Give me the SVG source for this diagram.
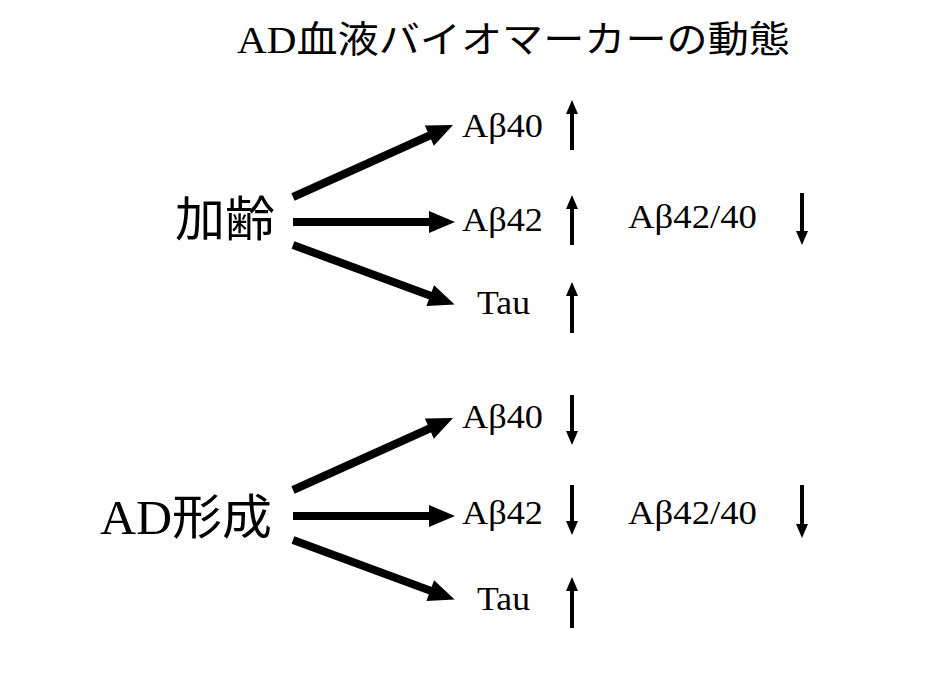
<svg xmlns="http://www.w3.org/2000/svg" width="938" height="689" viewBox="0 0 938 689">
<defs>
<style>
.t{font-family:"Liberation Serif","Noto Sans CJK JP",serif;fill:#000}
.j{font-family:"Noto Sans CJK JP",sans-serif;fill:#000}
.b{stroke:#000;stroke-width:8;fill:none;marker-end:url(#hb)}
.s{stroke:#000;stroke-width:4;fill:none;marker-end:url(#hs)}
</style>
<marker id="hb" markerUnits="userSpaceOnUse" markerWidth="28" markerHeight="24" refX="4" refY="11" orient="auto" overflow="visible"><path d="M0,0L26,11L0,22Z" fill="#000"/></marker>
<marker id="hs" markerUnits="userSpaceOnUse" markerWidth="16" markerHeight="16" refX="2" refY="6" orient="auto" overflow="visible"><path d="M0,0L14,6L0,12Z" fill="#000"/></marker>
</defs>
<rect width="938" height="689" fill="#fff"/>
<text class="t" x="237" y="53" font-size="37" textLength="553" lengthAdjust="spacingAndGlyphs">AD血液バイオマーカーの動態</text>
<g id="aging"><text class="j" x="175" y="236" font-size="48" textLength="100" lengthAdjust="spacingAndGlyphs">加齢</text></g>
<g id="adform"><text x="100" y="534" font-size="48" textLength="172" lengthAdjust="spacingAndGlyphs"><tspan class="t">AD</tspan><tspan class="j">形成</tspan></text></g>
<g id="g1-ab40"><text class="t" x="462" y="137" font-size="34" textLength="81" lengthAdjust="spacingAndGlyphs">Aβ40</text></g>
<g id="g1-ab42"><text class="t" x="462" y="231" font-size="34" textLength="81" lengthAdjust="spacingAndGlyphs">Aβ42</text></g>
<g id="g1-tau"><text class="t" x="477" y="314" font-size="34" textLength="53" lengthAdjust="spacingAndGlyphs">Tau</text></g>
<g id="g1-ratio"><text class="t" x="628" y="228" font-size="34" textLength="129" lengthAdjust="spacingAndGlyphs">Aβ42/40</text></g>
<g id="g2-ab40"><text class="t" x="462" y="428" font-size="34" textLength="81" lengthAdjust="spacingAndGlyphs">Aβ40</text></g>
<g id="g2-ab42"><text class="t" x="462" y="524" font-size="34" textLength="81" lengthAdjust="spacingAndGlyphs">Aβ42</text></g>
<g id="g2-tau"><text class="t" x="477" y="610" font-size="34" textLength="53" lengthAdjust="spacingAndGlyphs">Tau</text></g>
<g id="g2-ratio"><text class="t" x="628" y="524" font-size="34" textLength="129" lengthAdjust="spacingAndGlyphs">Aβ42/40</text></g>
<g id="connectors">
<line class="b" x1="293" y1="197" x2="433" y2="134"/>
<line class="b" x1="293" y1="222" x2="433" y2="222"/>
<line class="b" x1="293" y1="245" x2="434" y2="297"/>
<line class="b" x1="293" y1="490" x2="433" y2="427"/>
<line class="b" x1="293" y1="516" x2="433" y2="516"/>
<line class="b" x1="293" y1="540" x2="434" y2="592"/>
<line class="s" x1="572" y1="150" x2="572" y2="112"/>
<line class="s" x1="572" y1="245" x2="572" y2="207"/>
<line class="s" x1="572" y1="333" x2="572" y2="294"/>
<line class="s" x1="572" y1="395" x2="572" y2="433"/>
<line class="s" x1="572" y1="485" x2="572" y2="523"/>
<line class="s" x1="572" y1="628" x2="572" y2="589"/>
<line class="s" x1="802" y1="193" x2="802" y2="233"/>
<line class="s" x1="802" y1="485" x2="802" y2="526"/>
</g>
</svg>
